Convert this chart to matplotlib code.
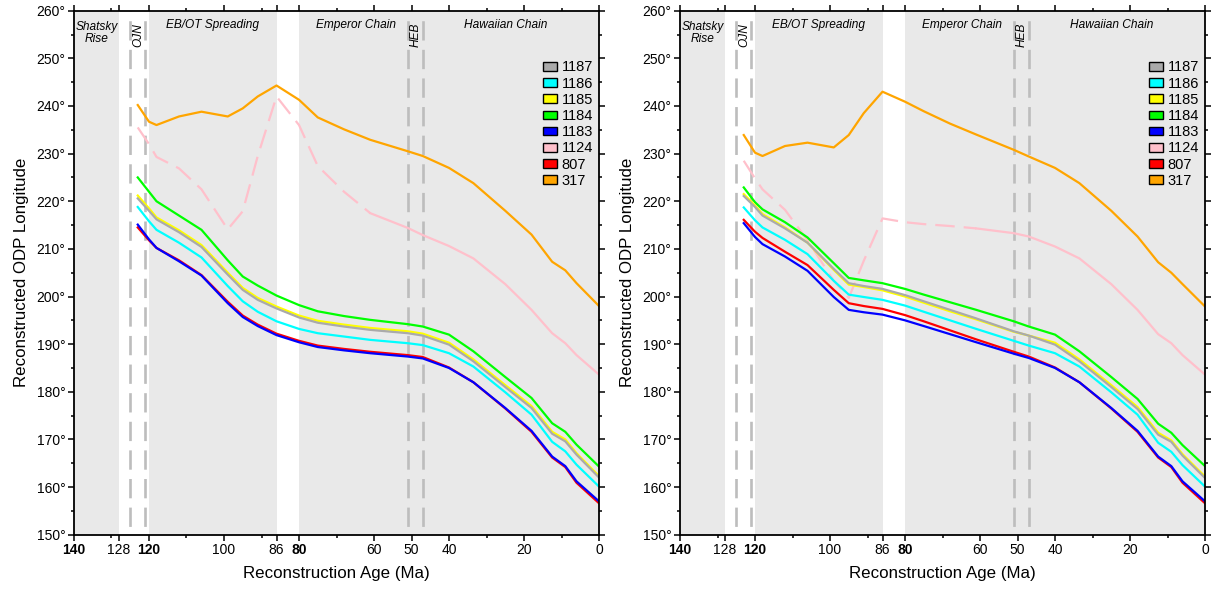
import matplotlib
matplotlib.use("Agg")
import matplotlib.pyplot as plt
from matplotlib.patches import Patch
from matplotlib.ticker import FixedLocator

plt.rcParams["font.family"] = ["Liberation Sans", "DejaVu Sans"]
plt.rcParams["lines.scale_dashes"] = False

# Reconstruction ages (Ma) at which each site track is sampled
AGES = [123, 120, 118, 112, 106, 99, 95, 91, 86, 80, 75, 68, 61, 51, 47,
        40, 33.5, 25, 18, 12.5, 9, 6, 0]

SITES = ["1187", "1186", "1185", "1184", "1183", "1124", "807", "317"]
COLORS = ["#aaaaaa", "#00ffff", "#ffff00", "#00ff00", "#0000ff",
          "#ffc0cb", "#ff0000", "#ffa500"]

# Left model: reconstructed longitude (degrees E) of each ODP site
L_1187 = [220.6, 218.0, 216.2, 213.5, 210.4, 204.6, 201.4, 199.3, 197.5, 195.6, 194.5, 193.7,
          193.0, 192.3, 191.8, 189.9, 186.4, 181.0, 176.6, 171.2, 169.6, 166.8, 162.0]
L_1186 = [218.8, 215.8, 214.0, 211.3, 208.2, 202.2, 199.0, 196.8, 194.8, 193.2, 192.3, 191.6,
          190.9, 190.2, 189.8, 188.1, 185.3, 179.9, 175.2, 169.5, 167.5, 164.7, 160.1]
L_1185 = [221.2, 218.5, 216.6, 213.9, 210.8, 205.0, 201.8, 199.7, 197.9, 196.0, 194.9, 194.1,
          193.4, 192.7, 192.2, 190.3, 186.8, 181.4, 177.0, 171.6, 170.0, 167.1, 162.3]
L_1184 = [225.0, 222.0, 220.0, 217.0, 214.0, 207.6, 204.2, 202.3, 200.2, 198.2, 196.9, 195.9,
          195.1, 194.2, 193.7, 192.0, 188.5, 183.1, 178.7, 173.4, 171.6, 168.9, 164.3]
L_1183 = [215.1, 212.0, 210.2, 207.4, 204.4, 198.6, 195.7, 193.8, 191.9, 190.4, 189.4, 188.7,
          188.1, 187.4, 187.0, 185.0, 182.0, 176.6, 171.8, 166.4, 164.4, 161.2, 157.0]
L_1124 = [235.5, 232.0, 229.3, 226.9, 222.5, 214.1, 217.9, 229.5, 242.0, 236.0, 227.4, 222.0,
          217.5, 214.4, 212.9, 210.6, 208.0, 202.6, 197.2, 192.3, 190.2, 187.7, 183.6]
L_807 = [214.5, 211.8, 210.2, 207.6, 204.5, 198.9, 196.0, 194.1, 192.2, 190.7, 189.7, 189.0,
         188.4, 187.7, 187.3, 185.1, 182.0, 176.5, 171.6, 166.2, 164.2, 160.9, 156.6]
L_317 = [240.2, 236.7, 236.0, 237.8, 238.8, 237.8, 239.5, 242.0, 244.3, 241.3, 237.6, 235.1,
         232.9, 230.5, 229.5, 227.0, 223.8, 218.0, 213.0, 207.3, 205.5, 202.8, 198.0]

# Right model
R_1187 = [221.1, 218.8, 217.0, 214.3, 211.3, 205.8, 202.8, 202.2, 201.6, 200.3, 199.0, 197.2,
          195.4, 192.7, 191.8, 189.9, 186.4, 181.0, 176.4, 171.0, 169.5, 166.6, 161.9]
R_1186 = [218.7, 216.0, 214.5, 211.9, 208.9, 203.3, 200.4, 199.9, 199.3, 198.1, 196.8, 195.0,
          193.2, 190.7, 189.7, 188.1, 185.3, 179.9, 175.2, 169.3, 167.4, 164.6, 160.1]
R_1185 = [221.5, 219.1, 217.3, 214.5, 211.3, 205.6, 202.5, 202.0, 201.3, 200.0, 198.7, 196.9,
          195.2, 192.6, 191.8, 190.3, 186.8, 181.4, 176.8, 171.4, 169.8, 166.9, 162.2]
R_1184 = [222.9, 219.8, 218.3, 215.6, 212.4, 207.0, 203.9, 203.4, 202.8, 201.6, 200.4, 198.8,
          197.2, 194.8, 193.7, 192.0, 188.5, 183.1, 178.5, 173.3, 171.4, 168.8, 164.4]
R_1183 = [215.4, 212.5, 211.0, 208.4, 205.4, 199.9, 197.2, 196.7, 196.2, 195.0, 193.8, 192.1,
          190.4, 188.0, 187.1, 185.0, 182.0, 176.6, 171.8, 166.4, 164.4, 161.2, 157.0]
R_1124 = [228.5, 224.8, 222.5, 218.2, 211.8, 203.3, 199.7, 207.5, 216.4, 215.6, 215.2, 214.8,
          214.3, 213.3, 212.6, 210.5, 208.0, 202.6, 197.2, 192.1, 190.2, 187.7, 183.6]
R_807 = [216.1, 213.6, 212.3, 209.4, 206.6, 201.4, 198.6, 198.0, 197.4, 196.1, 194.8, 192.9,
         191.0, 188.4, 187.4, 185.1, 182.0, 176.5, 171.6, 166.2, 164.2, 160.9, 156.6]
R_317 = [233.9, 230.2, 229.5, 231.6, 232.3, 231.3, 233.9, 238.5, 243.0, 240.9, 238.9, 236.3,
         234.0, 230.8, 229.4, 227.0, 223.8, 218.0, 212.6, 207.2, 205.0, 202.6, 197.9]

LEFT = [L_1187, L_1186, L_1185, L_1184, L_1183, L_1124, L_807, L_317]
RIGHT = [R_1187, R_1186, R_1185, R_1184, R_1183, R_1124, R_807, R_317]

# Tectonic episodes and bounding ages
SHADED = [(140, 128), (120, 86), (80, 0)]
OJN_AGES = [125, 121]
HEB_AGES = [51, 47]
REGION_TEXT = [("Shatsky\nRise", 134.0, 255.3), ("EB/OT Spreading", 103.0, 256.9),
               ("Emperor Chain", 64.8, 256.9), ("Hawaiian Chain", 24.8, 256.9)]
VERT_TEXT = [("OJN", 122.8, 254.9), ("HEB", 48.8, 254.9)]
PINK_SPLIT = 61  # older part of the 1124 track is drawn dashed

X_MAJOR = [140, 128, 120, 100, 86, 80, 60, 50, 40, 20, 0]
X_BOLD = ["140", "120", "80"]
X_MINOR = [130, 110, 90, 70, 30, 10]
Y_MAJOR = list(range(150, 261, 10))
Y_MINOR = list(range(155, 260, 10))

fig = plt.figure(figsize=(12.25, 5.89), dpi=100)
axes = [fig.add_axes([0.0604, 0.0922, 0.4286, 0.8896]),
        fig.add_axes([0.5551, 0.0922, 0.4286, 0.8896])]

GRID_GRAY = "#e9e9e9"
DASH_GRAY = "#bdbdbd"


def draw_panel(ax, tracks):
    ax.set_xlim(140, 0)
    ax.set_ylim(150, 260)
    for a0, a1 in SHADED:
        ax.axvspan(a0, a1, color=GRID_GRAY, lw=0, zorder=0)
    for age in OJN_AGES + HEB_AGES:
        ax.plot([age, age], [260, 150], color=DASH_GRAY, lw=1.9,
                linestyle=(13.6, (13.9, 6.7)), zorder=1, solid_capstyle="butt")
    # draw from 317 back to 1187 so later sites sit on top
    for name, col, vals in reversed(list(zip(SITES, COLORS, tracks))):
        if name == "1124":
            k = AGES.index(PINK_SPLIT)
            ax.plot(AGES[:k + 1], vals[:k + 1], color=col, lw=1.6,
                    linestyle=(0, (14.0, 6.5)), zorder=2)
            ax.plot(AGES[k:], vals[k:], color=col, lw=1.6, zorder=2)
        else:
            ax.plot(AGES, vals, color=col, lw=1.6, zorder=3)
    for txt, x, y in REGION_TEXT:
        ax.text(x, y, txt, ha="center", va="center", style="italic",
                fontsize=8.6, linespacing=1.05, zorder=4)
    for txt, x, y in VERT_TEXT:
        ax.text(x, y, txt, ha="center", va="center", style="italic",
                fontsize=8.6, rotation=90, zorder=4)

    handles = [Patch(facecolor=c, edgecolor="black", lw=1.0) for c in COLORS]
    ax.legend(handles, SITES, loc="upper left", bbox_to_anchor=(0.893, 0.905),
              frameon=False, fontsize=10.5, handlelength=1.0, handleheight=0.55,
              handletextpad=0.3, labelspacing=0.15, borderpad=0, borderaxespad=0)

    ax.xaxis.set_major_locator(FixedLocator(X_MAJOR))
    ax.xaxis.set_minor_locator(FixedLocator(X_MINOR))
    ax.set_xticklabels([str(v) for v in X_MAJOR])
    for lab in ax.get_xticklabels():
        if lab.get_text() in X_BOLD:
            lab.set_fontweight("bold")
    ax.yaxis.set_major_locator(FixedLocator(Y_MAJOR))
    ax.yaxis.set_minor_locator(FixedLocator(Y_MINOR))
    ax.set_yticklabels([f"{v}\u00b0" for v in Y_MAJOR])
    ax.tick_params(which="both", direction="out", top=True, right=True,
                   labelsize=10, width=1.1, color="black", pad=2)
    ax.tick_params(which="major", length=4.2)
    ax.tick_params(which="minor", length=2.4)
    for sp in ax.spines.values():
        sp.set_linewidth(1.3)
        sp.set_zorder(5)
    ax.set_xlabel("Reconstruction Age (Ma)", fontsize=12.2, labelpad=6)
    ax.set_ylabel("Reconstructed ODP Longitude", fontsize=12.2, labelpad=5)


draw_panel(axes[0], LEFT)
draw_panel(axes[1], RIGHT)

fig.savefig("out.png", dpi=100)
